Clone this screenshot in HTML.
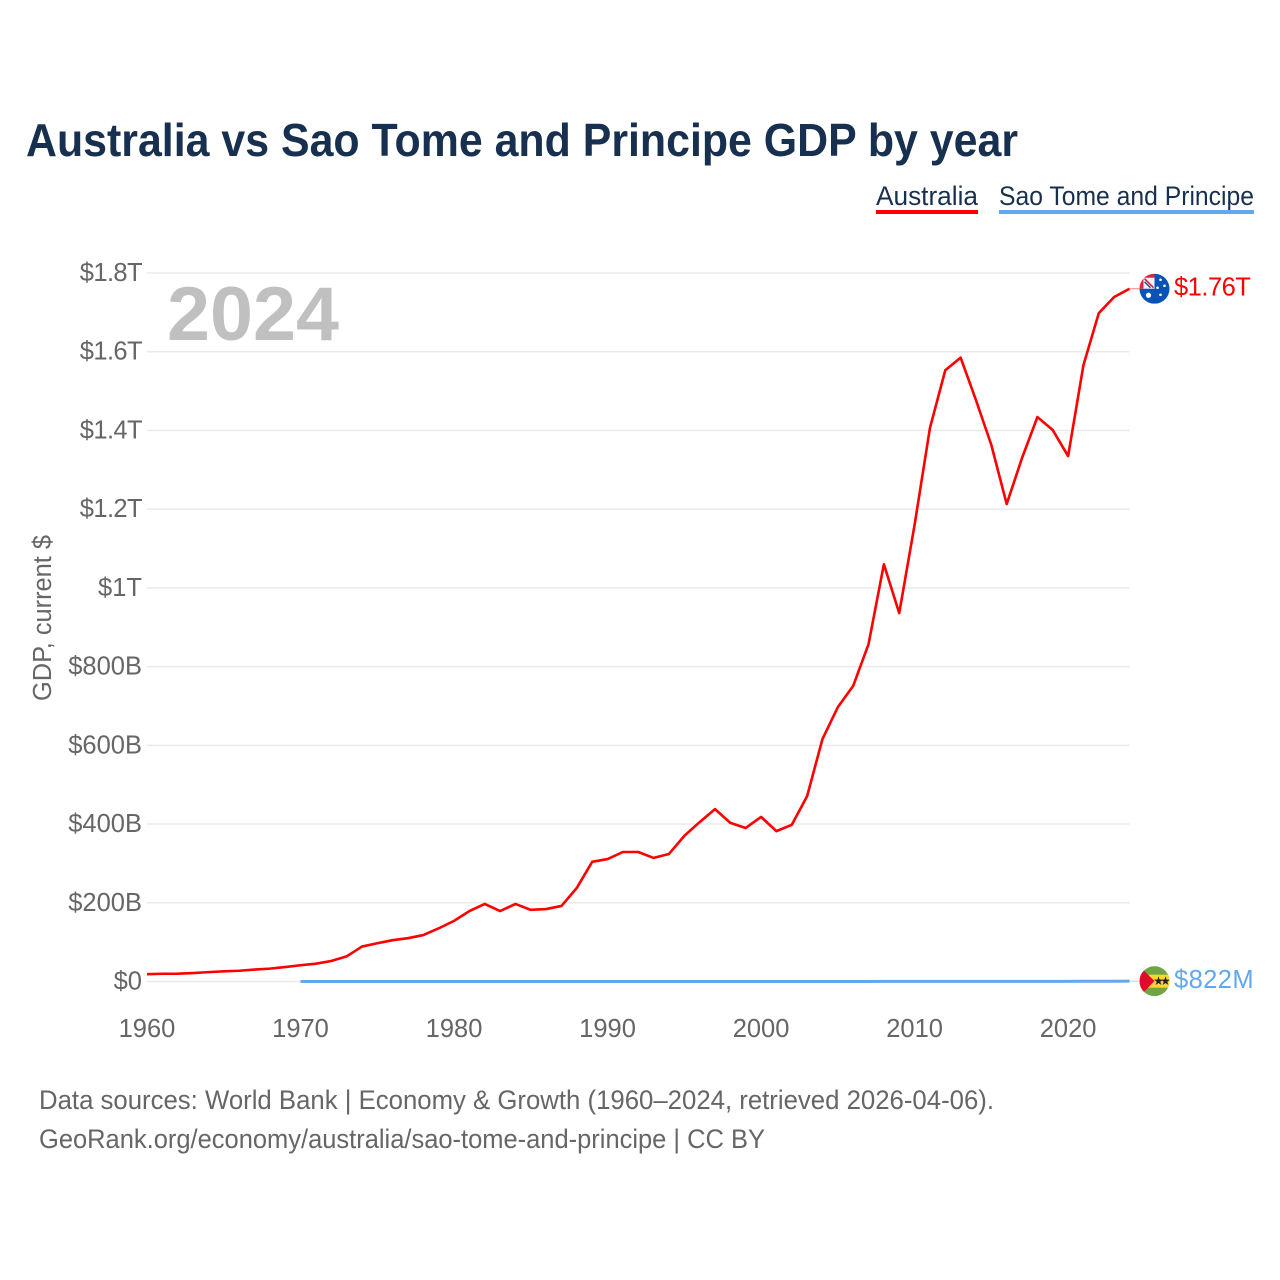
<!DOCTYPE html>
<html lang="en">
<head>
<meta charset="utf-8">
<title>Australia vs Sao Tome and Principe GDP by year</title>
<style>
html,body{margin:0;padding:0;background:#fff;}
svg{display:block;font-family:"Liberation Sans",sans-serif;}
.tick{fill:#666;font-size:25.5px;}
</style>
</head>
<body>
<svg id="chart" xmlns="http://www.w3.org/2000/svg" width="1280" height="1280" viewBox="0 0 1280 1280">
  <defs>
    <clipPath id="clip-au"><circle cx="0" cy="0" r="15"/></clipPath>
    <clipPath id="clip-st"><circle cx="0" cy="0" r="15"/></clipPath>
  </defs>
  <rect width="1280" height="1280" fill="#fff"/>
  <text x="26" y="156" font-size="46" font-weight="700" fill="#18304f" textLength="992" lengthAdjust="spacingAndGlyphs">Australia vs Sao Tome and Principe GDP by year</text>

  <g>
    <text x="876" y="205" font-size="26.5" fill="#18304f" textLength="102" lengthAdjust="spacingAndGlyphs">Australia</text>
    <rect x="876" y="210" width="102" height="4" fill="#ff0000"/>
  </g>
  <g>
    <text x="999" y="205" font-size="26.5" fill="#18304f" textLength="255" lengthAdjust="spacingAndGlyphs">Sao Tome and Principe</text>
    <rect x="999" y="210" width="255" height="4" fill="#63a7ee"/>
  </g>

  <g id="grid"></g>
  <g id="yaxis"></g>
  <g id="xaxis"></g>

  <text x="167" y="340" font-size="76" font-weight="700" fill="#c0c0c0" textLength="172" lengthAdjust="spacingAndGlyphs">2024</text>

  <text transform="translate(51,701) rotate(-90)" font-size="25.5" fill="#666" textLength="166" lengthAdjust="spacingAndGlyphs">GDP, current $</text>

  <g id="series"></g>

  <g id="flag-au">
    <g clip-path="url(#clip-au)">
      <rect x="-15" y="-15" width="30" height="30" fill="#0a52b5"/>
      <rect x="-15" y="-15" width="15" height="15" fill="#f4f4f8"/>
      <rect x="-15" y="-15" width="15" height="4" fill="#e0233f"/>
      <rect x="-15" y="-15" width="4" height="15" fill="#e0233f"/>
      <path d="M-10,-10 L-1,-1" stroke="#d8203a" stroke-width="1.6"/>
      <path d="M-10,-7 L-4,-1" stroke="#2a4a9a" stroke-width="1.4"/>
      <circle cx="-6" cy="6.5" r="2.6" fill="#fff"/>
      <circle cx="6" cy="-9" r="1.3" fill="#fff"/>
      <circle cx="10" cy="-3" r="1.3" fill="#fff"/>
      <circle cx="3" cy="-1" r="1.3" fill="#fff"/>
      <circle cx="6" cy="6" r="1.3" fill="#fff"/>
    </g>
  </g>
  <g id="flag-st">
    <g clip-path="url(#clip-st)">
      <rect x="-15" y="-15" width="30" height="30" fill="#6fa544"/>
      <rect x="-15" y="-6.5" width="30" height="13" fill="#fbd535"/>
      <path d="M-15,-15 L0,0 L-15,15 Z" fill="#df0a2c"/>
      <text x="4" y="4" font-size="12" text-anchor="middle" fill="#222">★</text>
      <text x="11" y="4" font-size="12" text-anchor="middle" fill="#222">★</text>
    </g>
  </g>

  <g id="endlabels"></g>

  <text x="39" y="1109" font-size="26.5" fill="#666" textLength="955" lengthAdjust="spacingAndGlyphs">Data sources: World Bank | Economy &amp; Growth (1960–2024, retrieved 2026-04-06).</text>
  <text x="39" y="1148" font-size="26.5" fill="#666" textLength="726" lengthAdjust="spacingAndGlyphs">GeoRank.org/economy/australia/sao-tome-and-principe | CC BY</text>
</svg>

<script>
// GDP values, in billions of current US dollars
const australiaStartYear = 1960;
const australiaValues = [
  18.6,19.7,19.9,21.5,23.8,25.9,27.3,30.4,32.7,36.6,
  41.3,45.2,52,63.7,88.8,97.2,105,110,118,135,
  154,179,197,179,197,182,184,192,238,304,
  311,329,329,314,324,370,405,438,403,390,
  418,382,398,471,616,697,751,857,1060,936,
  1160,1406,1553,1585,1477,1363,1213,1330,1434,1401,
  1335,1566,1698,1739,1760
];
const saoTomeStartYear = 1970;
const saoTomeValues = [
  0.02,0.02,0.03,0.04,0.05,0.05,0.05,0.06,0.07,0.08,
  0.09,0.08,0.08,0.08,0.07,0.07,0.08,0.08,0.07,0.06,
  0.06,0.06,0.06,0.08,0.08,0.06,0.06,0.06,0.06,0.07,
  0.08,0.08,0.09,0.10,0.11,0.13,0.14,0.15,0.19,0.20,
  0.20,0.25,0.27,0.31,0.35,0.32,0.35,0.38,0.42,0.43,
  0.47,0.53,0.55,0.68,0.82
];
const yTickValues = [0,200,400,600,800,1000,1200,1400,1600,1800];
const yTickLabels = ["$0","$200B","$400B","$600B","$800B","$1T","$1.2T","$1.4T","$1.6T","$1.8T"];
const xTickValues = [1960,1970,1980,1990,2000,2010,2020];
const xTickLabels = ["1960","1970","1980","1990","2000","2010","2020"];
const endLabelAustralia = "$1.76T";
const endLabelSaoTome = "$822M";

const NS = "http://www.w3.org/2000/svg";
function xScale(year){ return 147 + (year - 1960) * (1068.1 - 147) / 60; }
function yScale(v){ return 981.5 - v * (981.5 - 273) / 1800; }

function pathFor(values, startYear){
  return values.map(function(v, i){
    return (i ? "L" : "M") + xScale(startYear + i).toFixed(2) + "," + yScale(v).toFixed(2);
  }).join(" ");
}

const grid = document.getElementById("grid");
const yaxis = document.getElementById("yaxis");
const xaxis = document.getElementById("xaxis");
const series = document.getElementById("series");
const endlabels = document.getElementById("endlabels");
const lastYear = australiaStartYear + australiaValues.length - 1;

yTickValues.forEach(function(v, i){
  const line = document.createElementNS(NS, "line");
  
  
  line.setAttribute("x1", xScale(1960));
  line.setAttribute("x2", xScale(lastYear));
  line.setAttribute("y1", yScale(v));
  line.setAttribute("y2", yScale(v));
  line.setAttribute("stroke", "#eaeaea");
  line.setAttribute("stroke-width", "1.5");
  grid.appendChild(line);

  const t = document.createElementNS(NS, "text");
  
  
  t.setAttribute("class", "tick");
  t.setAttribute("x", 142);
  t.setAttribute("y", yScale(v) + 8);
  t.setAttribute("text-anchor", "end");
  if (yTickLabels[i].indexOf(".") >= 0) {
    t.setAttribute("letter-spacing", "-0.6");
  }
  t.textContent = yTickLabels[i];
  yaxis.appendChild(t);
});

xTickValues.forEach(function(v, i){
  const t = document.createElementNS(NS, "text");
  
  
  t.setAttribute("class", "tick");
  t.setAttribute("x", xScale(v));
  t.setAttribute("y", 1037);
  t.setAttribute("text-anchor", "middle");
  t.textContent = xTickLabels[i];
  xaxis.appendChild(t);
});

const saoLine = document.createElementNS(NS, "path");


saoLine.setAttribute("d", pathFor(saoTomeValues, saoTomeStartYear));
saoLine.setAttribute("fill", "none");
saoLine.setAttribute("stroke", "#63a7ee");
saoLine.setAttribute("stroke-width", "3");
series.appendChild(saoLine);

const ausLine = document.createElementNS(NS, "path");


ausLine.setAttribute("d", pathFor(australiaValues, australiaStartYear));
ausLine.setAttribute("fill", "none");
ausLine.setAttribute("stroke", "#ff0000");
ausLine.setAttribute("stroke-width", "2.6");
ausLine.setAttribute("stroke-linejoin", "round");
series.appendChild(ausLine);

const ausEndY = yScale(australiaValues[australiaValues.length - 1]);
const saoEndY = yScale(saoTomeValues[saoTomeValues.length - 1]);
const endX = xScale(lastYear);

const ausConnector = document.createElementNS(NS, "line");


ausConnector.setAttribute("x1", endX);
ausConnector.setAttribute("x2", endX + 11);
ausConnector.setAttribute("y1", ausEndY);
ausConnector.setAttribute("y2", ausEndY);
ausConnector.setAttribute("stroke", "#ff8080");
ausConnector.setAttribute("stroke-width", "1");
series.appendChild(ausConnector);

const saoConnector = document.createElementNS(NS, "line");


saoConnector.setAttribute("x1", endX);
saoConnector.setAttribute("x2", endX + 9);
saoConnector.setAttribute("y1", saoEndY);
saoConnector.setAttribute("y2", saoEndY);
saoConnector.setAttribute("stroke", "#b5d4f6");
saoConnector.setAttribute("stroke-width", "1");
series.appendChild(saoConnector);

document.getElementById("flag-au").setAttribute("transform", "translate(" + (endX + 25) + "," + ausEndY + ")");
document.getElementById("flag-st").setAttribute("transform", "translate(" + (endX + 25) + "," + saoEndY + ")");

const ausLabel = document.createElementNS(NS, "text");


ausLabel.setAttribute("x", endX + 44.5);
ausLabel.setAttribute("y", ausEndY + 7);
ausLabel.setAttribute("font-size", "25.5");
ausLabel.setAttribute("letter-spacing", "-0.5");
ausLabel.setAttribute("fill", "#ff0000");
ausLabel.textContent = endLabelAustralia;
endlabels.appendChild(ausLabel);

const saoLabel = document.createElementNS(NS, "text");


saoLabel.setAttribute("x", endX + 44.5);
saoLabel.setAttribute("y", saoEndY + 7);
saoLabel.setAttribute("font-size", "25.5");
saoLabel.setAttribute("letter-spacing", "0.4");
saoLabel.setAttribute("fill", "#63a7ee");
saoLabel.textContent = endLabelSaoTome;
endlabels.appendChild(saoLabel);
</script>
</body>
</html>
